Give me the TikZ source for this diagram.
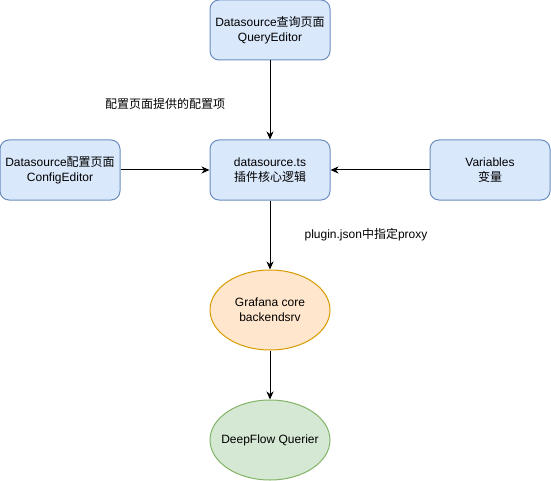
\documentclass[tikz,border=0pt]{standalone}
\usepackage{fontspec}
\setmainfont{Liberation Sans}
\newfontfamily\cjk{Noto Sans CJK SC}
\usepackage{xcolor}
\usepackage{tikz}
\usetikzlibrary{arrows.meta, shapes.geometric}
\definecolor{boxfill}{HTML}{DAE8FC}
\definecolor{boxline}{HTML}{6C8EBF}
\definecolor{corefill}{HTML}{FFE6CC}
\definecolor{coreline}{HTML}{D79B00}
\definecolor{qfill}{HTML}{D5E8D4}
\definecolor{qline}{HTML}{82B366}

\begin{document}
\begin{tikzpicture}[x=1pt, y=-1pt, line width=1pt,
	box/.style={draw=boxline, fill=boxfill, rounded corners=9pt, minimum width=120pt, minimum height=60pt, align=center, inner sep=0pt},
	core/.style={ellipse, draw=#1line, fill=#1fill, minimum width=120pt, minimum height=80pt, align=center, inner xsep=-12pt, inner ysep=0pt},
	link/.style={-{Stealth[length=8pt, width=7pt, inset=2.5pt]}}]

	\useasboundingbox (0,0) rectangle (551,481);
	\fontsize{12}{15}\selectfont

	% boxes of the plugin
	\node[box] (query)  at (270,30)  {Datasource{\cjk 查询页面}\\QueryEditor};
	\node[box] (config) at (60,170)  {Datasource{\cjk 配置页面}\\ConfigEditor};
	\node[box] (ds)     at (270,170) {datasource.ts\\{\cjk 插件核心逻辑}};
	\node[box] (vars)   at (490,170) {Variables\\{\cjk 变量}};

	% backend side
	\node[core=core] (grafana) at (270,310) {Grafana core\\backendsrv};
	\node[core=q]    (querier) at (270,440) {DeepFlow Querier};

	\draw[link] (query) -- (ds);
	\draw[link] (config) -- (ds);
	\draw[link] (vars) -- (ds);
	\draw[link] (ds) -- (grafana);
	\draw[link] (grafana) -- (querier);

	\node (cfglabel) at (165,104) {\cjk 配置页面提供的配置项};
	\node (proxylabel) at (366,235) {plugin.json{\cjk 中指定}proxy};

\end{tikzpicture}
\end{document}
